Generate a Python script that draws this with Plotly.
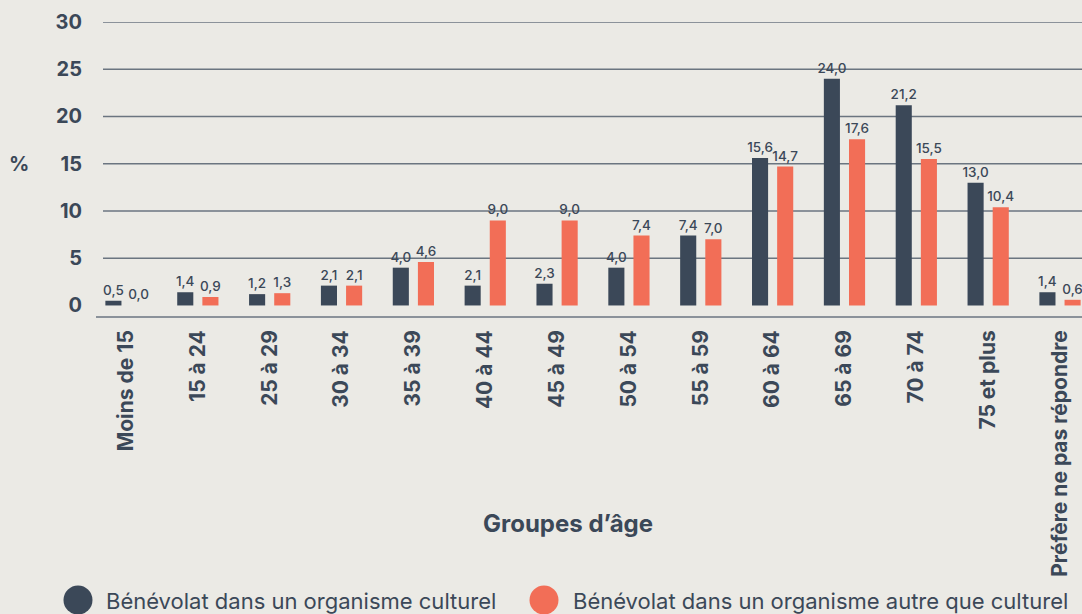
import plotly.graph_objects as go

categories = ["Moins de 15", "15 à 24", "25 à 29", "30 à 34", "35 à 39", "40 à 44",
              "45 à 49", "50 à 54", "55 à 59", "60 à 64", "65 à 69", "70 à 74",
              "75 et plus", "Préfère ne pas répondre"]
culturel = [0.5, 1.4, 1.2, 2.1, 4.0, 2.1, 2.3, 4.0, 7.4, 15.6, 24.0, 21.2, 13.0, 1.4]
autre = [0.0, 0.9, 1.3, 2.1, 4.6, 9.0, 9.0, 7.4, 7.0, 14.7, 17.6, 15.5, 10.4, 0.6]
series_names = ["Bénévolat dans un organisme culturel",
                "Bénévolat dans un organisme autre que culturel"]
y_ticks = [0, 5, 10, 15, 20, 25, 30]

DARK = "#3b4858"
ORANGE = "#f26e57"
BG = "#ebeae5"
GRID = "#6b7580"
FONT = "Inter"

def fr(v):
    return f"{v:.1f}".replace(".", ",")

fig = go.Figure()
for vals, name, col in [(culturel, series_names[0], DARK), (autre, series_names[1], ORANGE)]:
    fig.add_trace(go.Bar(
        x=categories, y=vals, name=name, marker=dict(color=col, line=dict(width=0)),
        text=[fr(v) for v in vals], textposition="outside", constraintext="none",
        textfont=dict(family=FONT, size=13.5, color=DARK, weight=500),
        cliponaxis=False, showlegend=False,
    ))

L, T, W, H = 103, 22, 979, 295
fig.update_layout(
    width=1082, height=614,
    margin=dict(l=L, r=1082 - L - W, t=T, b=614 - T - H, autoexpand=False),
    paper_bgcolor=BG, plot_bgcolor=BG,
    barmode="group", bargap=0.30, bargroupgap=0.36,
    font=dict(family=FONT, color=DARK),
)
fig.update_xaxes(
    type="category", range=[-0.32, 13.306], tickangle=-90,
    tickfont=dict(family=FONT, size=21, color=DARK, weight=700),
    ticks="", showgrid=False, showline=False, zeroline=False,
    ticklabelstandoff=8,
)
fig.update_yaxes(
    range=[-1.22, 30.0], tickvals=y_ticks, ticktext=[str(v) for v in y_ticks],
    tickfont=dict(family=FONT, size=20, color=DARK, weight=700),
    showgrid=False, zeroline=False,
    showline=False, ticks="", ticklabelstandoff=20,
)

def px_x(p):
    return (p - L) / W

def px_y(p):
    return (T + H - p) / H

shapes = []
# gridlines (none at 0 in the original)
for v in y_ticks:
    if v == 0:
        continue
    shapes.append(dict(type="line", xref="paper", yref="y", x0=0, x1=1, y0=v, y1=v,
                       line=dict(color=GRID, width=1.5), layer="below"))
# baseline at the bottom, extended slightly left
shapes.append(dict(type="line", xref="paper", yref="paper", x0=px_x(96), x1=1.0, y0=0, y1=0,
                   line=dict(color=GRID, width=1.5), layer="above"))
# legend circles
for cx, col in [(78, DARK), (544, ORANGE)]:
    shapes.append(dict(type="circle", xref="paper", yref="paper",
                       x0=px_x(cx - 14.5), x1=px_x(cx + 14.5),
                       y0=px_y(600 + 14.5), y1=px_y(600 - 14.5),
                       fillcolor=col, line=dict(width=0)))
fig.update_layout(shapes=shapes)

annotations = [
    dict(text="%", xref="paper", yref="paper", x=px_x(19), y=px_y(164), showarrow=False,
         font=dict(family=FONT, size=20, color=DARK, weight=700), xanchor="center", yanchor="middle"),
    dict(text="Groupes d’âge", xref="paper", yref="paper", x=px_x(568), y=px_y(523), showarrow=False,
         font=dict(family=FONT, size=24, color=DARK, weight=700), xanchor="center", yanchor="middle"),
    dict(text=series_names[0], xref="paper", yref="paper", x=px_x(104), y=px_y(601), showarrow=False,
         font=dict(family=FONT, size=22, color=DARK, weight=400), xanchor="left", yanchor="middle"),
    dict(text=series_names[1], xref="paper", yref="paper", x=px_x(571), y=px_y(601), showarrow=False,
         font=dict(family=FONT, size=22, color=DARK, weight=400), xanchor="left", yanchor="middle"),
]
fig.update_layout(annotations=annotations)

fig.write_html("out.html", config={"displayModeBar": False},
               post_script="document.body.style.margin='0';document.body.style.overflow='hidden';")
